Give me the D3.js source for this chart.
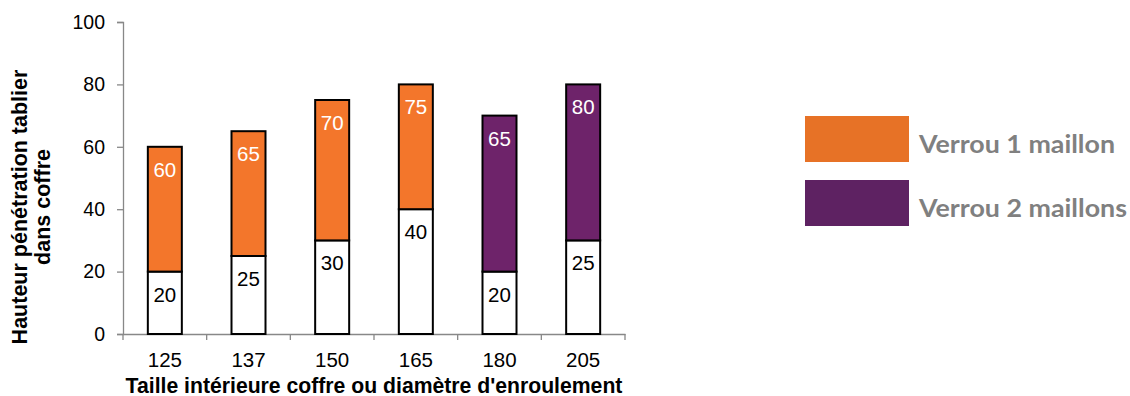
<!DOCTYPE html>
<html>
<head>
<meta charset="utf-8">
<script src="https://cdn.jsdelivr.net/npm/d3@7"></script>
<style>
  html, body { margin: 0; padding: 0; background: #fff; }
  svg { display: block; }
</style>
</head>
<body>
<svg id="chart" width="1130" height="396"></svg>
<script>
// ---- data ----
const categories = ["125", "137", "150", "165", "180", "205"];
const lowerValues = [20, 25, 30, 40, 20, 30];      // top of white segment
const upperValues = [60, 65, 75, 80, 70, 80];      // top of coloured segment
const lowerLabels = ["20", "25", "30", "40", "20", "25"];
const upperLabels = ["60", "65", "70", "75", "65", "80"];
const seriesOfBar = [0, 0, 0, 0, 1, 1];            // 0 = 1 maillon, 1 = 2 maillons
const seriesNames = ["Verrou 1 maillon", "Verrou 2 maillons"];
const yTicks = [0, 20, 40, 60, 80, 100];
const yTitleLines = ["Hauteur pénétration tablier", "dans coffre"];
const xTitle = "Taille intérieure coffre ou diamètre d'enroulement";

// ---- styles ----
const barColors = ["#F3762B", "#6E236A"];
const legendColors = ["#E77226", "#5E2262"];
const font = "'Liberation Sans', Arial, sans-serif";

const svg = d3.select("#chart");
const x0 = 123, x1 = 625, yBottom = 334, yTop = 22;

const x = d3.scaleBand().domain(categories).range([x0, x1]).paddingInner(0).paddingOuter(0);
const y = d3.scaleLinear().domain([0, 100]).range([yBottom, yTop]);
const barW = 34;

// axes
const yAxis = d3.axisLeft(y).tickValues(yTicks).tickSize(6).tickPadding(12);
const gy = svg.append("g").attr("transform", `translate(${x0},0)`).call(yAxis);
gy.select(".domain").attr("stroke", "#888").attr("stroke-width", 1.3);
gy.selectAll(".tick line").attr("stroke", "#888").attr("stroke-width", 1.3);
gy.selectAll(".tick text").attr("font-family", font).attr("font-size", 19.5).attr("fill", "#000");

const xAxis = d3.axisBottom(x).tickSize(0).tickPadding(0);
const gx = svg.append("g").attr("transform", `translate(0,${yBottom})`).call(xAxis);
gx.select(".domain").attr("stroke", "#888").attr("stroke-width", 1.3);
gx.selectAll(".tick text").attr("font-family", font).attr("font-size", 20.5).attr("fill", "#000")
  .attr("dy", null).attr("y", 33);
// boundary ticks
const bounds = categories.map(c => x(c)).concat([x1]);
gx.selectAll("line.bt").data(bounds).join("line").attr("class", "bt")
  .attr("x1", d => d).attr("x2", d => d).attr("y1", 0).attr("y2", 6)
  .attr("stroke", "#888").attr("stroke-width", 1.3);

// bars
const bars = svg.append("g");
categories.forEach((c, i) => {
  const cx = x(c) + x.bandwidth() / 2;
  bars.append("rect")
    .attr("x", cx - barW / 2).attr("width", barW)
    .attr("y", y(lowerValues[i])).attr("height", y(0) - y(lowerValues[i]))
    .attr("fill", "#fff").attr("stroke", "#000").attr("stroke-width", 2);
  bars.append("rect")
    .attr("x", cx - barW / 2).attr("width", barW)
    .attr("y", y(upperValues[i])).attr("height", y(lowerValues[i]) - y(upperValues[i]))
    .attr("fill", barColors[seriesOfBar[i]]).attr("stroke", "#000").attr("stroke-width", 2);
  bars.append("text").attr("x", cx).attr("y", y(lowerValues[i]) + 30)
    .attr("text-anchor", "middle").attr("font-family", font).attr("font-size", 20.5)
    .attr("fill", "#000").text(lowerLabels[i]);
  bars.append("text").attr("x", cx).attr("y", y(upperValues[i]) + 30)
    .attr("text-anchor", "middle").attr("font-family", font).attr("font-size", 20.5)
    .attr("fill", "#fff").text(upperLabels[i]);
});

// axis titles
const yt = svg.append("text").attr("transform", "translate(0,207) rotate(-90)")
  .attr("text-anchor", "middle").attr("font-family", font).attr("font-weight", "bold")
  .attr("font-size", 21.5).attr("fill", "#000");
yTitleLines.forEach((t, i) => yt.append("tspan").attr("x", 0).attr("y", 26.5 + i * 23.5).text(t));

svg.append("text").attr("x", (x0 + x1) / 2).attr("y", 393)
  .attr("text-anchor", "middle").attr("font-family", font).attr("font-weight", "bold")
  .attr("font-size", 21.2).attr("fill", "#000").text(xTitle);

// legend
const legendWidths = [196, 208];
const lg = svg.append("g");
seriesNames.forEach((n, i) => {
  const top = 116 + i * 64;
  lg.append("rect").attr("x", 805).attr("y", top).attr("width", 104).attr("height", 46)
    .attr("fill", legendColors[i]);
  lg.append("text").attr("x", 919).attr("y", top + 37)
    .attr("font-family", "Lato, 'Open Sans', sans-serif").attr("font-weight", "bold")
    .attr("font-size", 24.5).attr("fill", "#808080")
    .attr("textLength", legendWidths[i]).attr("lengthAdjust", "spacingAndGlyphs")
    .text(n);
});
</script>
</body>
</html>
